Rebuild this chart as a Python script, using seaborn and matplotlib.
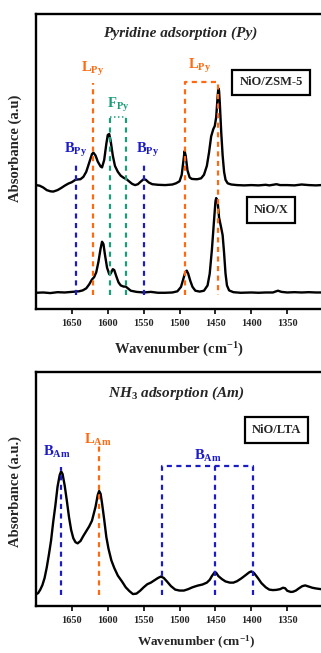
import numpy as np
import pandas as pd
import matplotlib
matplotlib.use("Agg")
import matplotlib.pyplot as plt
import seaborn as sns

# ---------------- data ----------------
# Pyridine adsorption, NiO/ZSM-5 (offset spectrum)
zsm_wn = [1700, 1695, 1690, 1685, 1680, 1676, 1670, 1665, 1660, 1655, 1650, 1645,
          1642, 1638, 1634, 1630, 1626, 1622, 1620, 1617, 1614, 1610, 1608, 1605,
          1602, 1600, 1598, 1596, 1593, 1590, 1586, 1582, 1578, 1574, 1570, 1566,
          1562, 1558, 1554, 1550, 1547, 1543, 1538, 1530, 1520, 1510, 1505, 1500,
          1497, 1494.5, 1493, 1491.5, 1489, 1486, 1483, 1478, 1475, 1470, 1466,
          1462, 1459, 1456, 1453, 1451, 1449, 1447, 1446, 1445, 1444, 1442, 1440,
          1438, 1436, 1433, 1428, 1420, 1410, 1400, 1390, 1380, 1375, 1365, 1360,
          1350, 1340, 1330, 1320, 1310, 1303]
zsm_abs = [42.0, 41.8, 41.2, 40.3, 39.9, 39.8, 40.3, 41.0, 41.8, 42.5, 43.0, 43.8,
           43.9, 44.0, 44.8, 46.5, 49.5, 52.5, 53.0, 52.0, 50.0, 48.3, 48.0, 50.5,
           56.0, 59.0, 59.3, 57.0, 52.0, 48.5, 46.5, 45.2, 44.5, 44.0, 43.2, 42.4,
           42.0, 42.3, 43.2, 44.0, 43.8, 42.9, 42.3, 42.1, 42.0, 42.2, 42.6, 43.3,
           45.5, 50.5, 53.5, 52.0, 47.0, 44.6, 44.1, 44.0, 44.0, 44.3, 45.5,
           48.5, 53.0, 58.5, 61.0, 62.0, 65.0, 72.0, 74.8, 74.0, 70.0, 60.0, 52.0,
           46.5, 43.8, 42.6, 42.2, 42.0, 41.9, 42.0, 41.9, 42.1, 41.9, 42.3, 42.0,
           42.0, 41.9, 42.2, 42.0, 41.9, 42.0]

# Pyridine adsorption, NiO/X
x_wn = [1700, 1690, 1680, 1670, 1660, 1650, 1640, 1635, 1630, 1626, 1622, 1619,
        1616, 1613, 1610, 1608, 1606, 1604, 1601, 1598, 1596, 1593, 1591, 1588,
        1585, 1582, 1578, 1575, 1572, 1568, 1560, 1550, 1540, 1530, 1520, 1510,
        1503, 1498, 1495, 1492, 1490, 1488, 1485, 1482, 1478, 1472, 1466, 1461,
        1458, 1455, 1452, 1450, 1449, 1447, 1445, 1442, 1440, 1438, 1436, 1434,
        1431, 1425, 1415, 1400, 1390, 1380, 1370, 1363, 1358, 1350, 1340, 1330,
        1320, 1310, 1303]
x_abs = [5.5, 5.6, 5.4, 5.7, 5.6, 5.8, 6.0, 6.3, 7.0, 8.3, 10.0, 10.8,
         12.5, 16.0, 20.5, 22.8, 22.0, 18.5, 14.0, 11.8, 12.0, 13.5, 13.2, 11.0,
         9.0, 8.0, 7.6, 7.6, 7.0, 6.2, 5.8, 5.6, 5.8, 5.5, 5.5, 5.6,
         6.0, 7.5, 10.0, 12.5, 13.0, 12.0, 9.5, 7.5, 6.2, 5.9, 6.2, 8.0,
         12.0, 20.0, 30.0, 36.5, 37.6, 36.5, 31.0, 27.5, 25.0, 19.0, 12.0, 8.0,
         6.3, 5.7, 5.5, 5.6, 5.5, 5.6, 5.6, 6.2, 5.8, 5.6, 5.7, 5.6,
         5.7, 5.6, 5.6]

# NH3 adsorption, NiO/LTA
lta_wn = [1700, 1697, 1694, 1691, 1688, 1685, 1682, 1679, 1676, 1673, 1670, 1667,
          1665, 1663, 1660, 1657, 1654, 1651, 1648, 1645, 1642, 1638, 1634, 1630,
          1626, 1622, 1617, 1614, 1612, 1610, 1608, 1605, 1602, 1599, 1595, 1591,
          1586, 1580, 1575, 1570, 1565, 1560, 1555, 1550, 1545, 1540, 1535, 1530,
          1526, 1522, 1517, 1512, 1506, 1500, 1494, 1488, 1482, 1475, 1468, 1462,
          1458, 1455, 1451, 1449, 1446, 1441, 1436, 1430, 1425, 1420, 1414, 1408,
          1403, 1400, 1396, 1391, 1386, 1380, 1375, 1370, 1365, 1360, 1356, 1353,
          1350, 1345, 1342, 1338, 1334, 1329, 1325, 1320, 1315, 1310, 1303]
lta_abs = [5.0, 5.5, 7.0, 9.0, 12.0, 16.5, 22.0, 28.0, 36.0, 43.0, 51.0, 56.0,
           57.6, 56.5, 51.5, 45.0, 38.0, 32.5, 29.0, 27.3, 26.8, 27.8, 30.0, 32.0,
           34.0, 36.5, 42.5, 47.5, 49.2, 48.0, 44.0, 37.0, 29.5, 24.5, 19.5, 16.3,
           13.0, 10.4, 8.0, 6.4, 5.1, 5.3, 6.5, 8.0, 9.3, 10.0, 11.0, 12.0,
           12.6, 12.0, 10.3, 8.5, 7.0, 6.6, 6.6, 7.2, 8.0, 8.7, 9.2, 10.0,
           11.2, 12.8, 14.5, 14.2, 12.8, 11.5, 10.5, 10.0, 10.0, 10.6, 11.8, 13.2,
           14.4, 14.8, 14.0, 12.0, 9.8, 8.0, 7.0, 6.8, 6.9, 7.2, 7.8, 7.6,
           6.5, 6.0, 6.1, 6.6, 7.5, 8.5, 8.8, 8.3, 7.8, 7.5, 7.2]

# band assignments (cm-1)
py_bronsted = [1644, 1549]
py_lewis_single = 1620
py_lewis_pair = [1493, 1447]
py_physisorbed = [1597, 1574]
am_bronsted_single = 1665
am_lewis = 1612
am_bronsted_group = [1525, 1450, 1398]

ticks = [1650, 1600, 1550, 1500, 1450, 1400, 1350]

# ---------------- style ----------------
sns.set_theme(style="ticks")
plt.rcParams["font.family"] = ["Liberation Serif", "DejaVu Serif"]
plt.rcParams["font.weight"] = "bold"
plt.rcParams["mathtext.fontset"] = "custom"
plt.rcParams["mathtext.rm"] = "Liberation Serif:bold"
plt.rcParams["mathtext.bf"] = "Liberation Serif:bold"
plt.rcParams["mathtext.it"] = "Liberation Serif:bold:italic"

ORANGE = "#FF6A10"
BLUE = "#1B1BC8"
GREEN = "#1B9E77"
DASHED = (0, (2.3, 2.0))
DOTTED = (0, (1.0, 1.6))
LW = 1.6

fig = plt.figure(figsize=(3.21, 6.53), dpi=100)
ax1 = fig.add_axes([0.1121, 0.5268, 0.8879, 0.4518])
ax2 = fig.add_axes([0.1121, 0.0720, 0.8879, 0.3579])


def spectrum(ax, wn, ab):
    df = pd.DataFrame({"wn": wn, "ab": ab})
    sns.lineplot(data=df, x="wn", y="ab", ax=ax, color="black", lw=1.7,
                 sort=False, estimator=None)


def vline(ax, x, top, color, base=4.7):
    ax.plot([x, x], [base, top], color=color, lw=LW, linestyle=DASHED)


def style_axes(ax):
    ax.set_xlim(1700, 1303)
    ax.set_ylim(0, 100)
    ax.set_xticks(ticks)
    ax.set_xticklabels([str(t) for t in ticks], fontsize=7.5, fontweight="bold")
    ax.set_yticks([])
    ax.set_xlabel("")
    ax.set_ylabel("")
    ax.tick_params(axis="x", direction="out", length=3.5, width=1.4, pad=4)
    for s in ["left", "bottom", "top"]:
        ax.spines[s].set_linewidth(1.7)
        ax.spines[s].set_color("black")
    ax.spines["right"].set_visible(False)


def tag(ax, text, xc, yc, size=9):
    ax.text(xc, yc, text, transform=ax.transAxes, ha="center", va="center",
            fontsize=size, fontweight="bold",
            bbox=dict(boxstyle="square,pad=0.55", fc="white", ec="black", lw=1.6))


# ---------- pyridine panel ----------
spectrum(ax1, zsm_wn, zsm_abs)
spectrum(ax1, x_wn, x_abs)

for b in py_bronsted:
    vline(ax1, b, 48.8, BLUE)
vline(ax1, py_lewis_single, 76.5, ORANGE)
ax1.plot([py_lewis_pair[0], py_lewis_pair[0], py_lewis_pair[1], py_lewis_pair[1]],
         [4.7, 77.0, 77.0, 4.7], color=ORANGE, lw=LW, linestyle=DASHED)
for f in py_physisorbed:
    vline(ax1, f, 65.0, GREEN)
ax1.plot(py_physisorbed, [65.0, 65.0], color=GREEN, lw=1.1, linestyle=DOTTED)

lab = dict(ha="center", va="center", fontsize=10.5, fontweight="bold")
ax1.text(1621, 81.5, r"L$_{\rm Py}$", color=ORANGE, **lab)
ax1.text(1472, 82.2, r"L$_{\rm Py}$", color=ORANGE, **lab)
ax1.text(1585.5, 69.0, r"F$_{\rm Py}$", color=GREEN, **lab)
ax1.text(1645.5, 54.0, r"B$_{\rm Py}$", color=BLUE, **lab)
ax1.text(1544, 54.0, r"B$_{\rm Py}$", color=BLUE, **lab)

ax1.text(0.507, 0.936, "Pyridine adsorption (Py)", transform=ax1.transAxes,
         ha="center", va="center", fontsize=11, fontweight="bold", style="italic")
tag(ax1, "NiO/ZSM-5", 0.8246, 0.768)
tag(ax1, "NiO/X", 0.8246, 0.336)
style_axes(ax1)

# ---------- ammonia panel ----------
spectrum(ax2, lta_wn, lta_abs)
vline(ax2, am_bronsted_single, 59.6, BLUE)
vline(ax2, am_lewis, 68.9, ORANGE)
ax2.plot([am_bronsted_group[0], am_bronsted_group[0], am_bronsted_group[2], am_bronsted_group[2]],
         [4.7, 59.9, 59.9, 4.7], color=BLUE, lw=LW, linestyle=DASHED)
vline(ax2, am_bronsted_group[1], 59.9, BLUE)

ax2.text(1670.5, 66.0, r"B$_{\rm Am}$", color=BLUE, **lab)
ax2.text(1613.3, 71.2, r"L$_{\rm Am}$", color=ORANGE, **lab)
ax2.text(1460.6, 64.0, r"B$_{\rm Am}$", color=BLUE, **lab)

ax2.text(0.491, 0.911, r"NH$_3$ adsorption (Am)", transform=ax2.transAxes,
         ha="center", va="center", fontsize=11, fontweight="bold", style="italic")
tag(ax2, "NiO/LTA", 0.8439, 0.753)
style_axes(ax2)

# axis titles
fig.text(0.047, 0.773, "Absorbance (a.u)", rotation=90, ha="center", va="center",
         fontsize=10.5, fontweight="bold")
fig.text(0.047, 0.2466, "Absorbance (a.u.)", rotation=90, ha="center", va="center",
         fontsize=10.5, fontweight="bold")
fig.text(0.558, 0.464, r"Wavenumber (cm$^{-1}$)", ha="center", va="center",
         fontsize=10.5, fontweight="bold")
fig.text(0.612, 0.016, r"Wavenumber (cm$^{-1}$)", ha="center", va="center",
         fontsize=9.5, fontweight="bold")

fig.savefig("out.png", dpi=100)
